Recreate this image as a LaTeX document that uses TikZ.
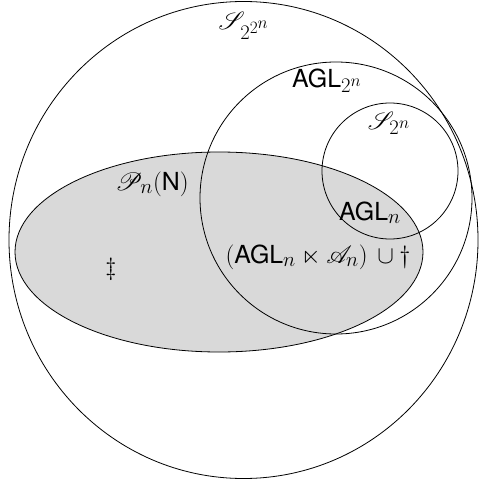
\documentclass[tikz,border=0pt]{standalone}
\usepackage{amssymb}
\usepackage{fontspec}
\setsansfont{TeX Gyre Heros}
\usepackage{mathrsfs}
\begin{document}
\begin{tikzpicture}[x=1pt,y=-1pt,
  venn/.style={draw=black,line width=0.8pt},
  lbl/.style={anchor=base,inner sep=0pt,font=\fontsize{24.88}{30}\selectfont}]
\useasboundingbox (0,0) rectangle (479,481);
% shaded set
\fill[black!15] (219,252) ellipse [x radius=204, y radius=100];
\draw[venn] (219,252) ellipse [x radius=204, y radius=100];
% circles
\draw[venn] (243.5,240) ellipse [x radius=234.5, y radius=238.5];
\draw[venn] (336,198) circle [radius=136];
\draw[venn] (390,171) circle [radius=68];
% labels
\node[lbl] (s22) at (244,30) {$\mathscr{S}_{2^{2^n}}$};
\node[lbl] (agl2) at (327,88) {\textsf{AGL}$_{2^n}$};
\node[lbl] (s2) at (389,130) {$\mathscr{S}_{2^n}$};
\node[lbl] (agln) at (370,220) {\textsf{AGL}$_n$};
\node[lbl] (pn) at (152,190) {$\mathscr{P}_n\bigl(\textsf{N}\bigr)$};
\node[lbl] (sd) at (318,263) {$(\textsf{AGL}_n \ltimes \mathscr{A}_n)\,\cup\dagger$};
\node[lbl] (dd) at (111,275) {$\ddagger$};
\end{tikzpicture}
\end{document}
